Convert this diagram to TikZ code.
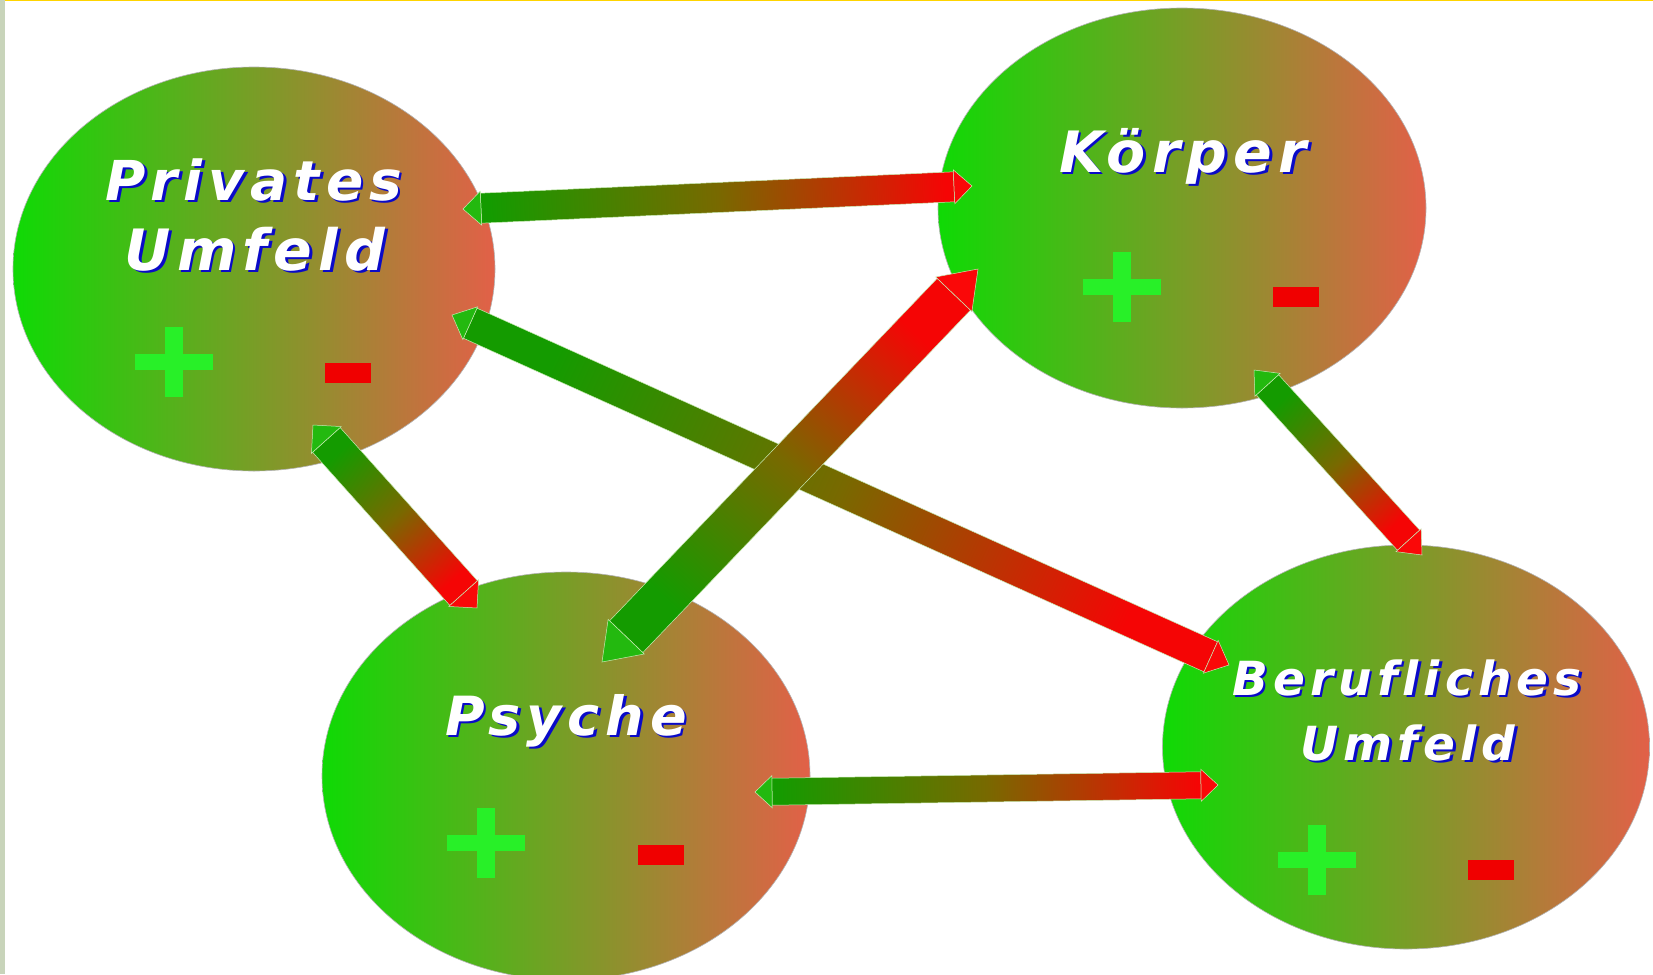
\documentclass[tikz,border=0pt]{standalone}
\usepackage{fontspec}
\newfontfamily\lblfont{DejaVu Sans}[LetterSpace=11,Ligatures=NoCommon]
\usetikzlibrary{calc,shapes.geometric}

\definecolor{ovgreen}{RGB}{15,218,5}
\definecolor{ovred}{RGB}{226,96,72}
\definecolor{agreen}{RGB}{20,155,0}
\definecolor{amid}{RGB}{120,105,0}
\definecolor{ared}{RGB}{245,5,5}
\definecolor{headgreen}{RGB}{35,185,15}
\definecolor{headred}{RGB}{250,8,8}
\definecolor{arrline}{RGB}{200,235,180}
\definecolor{shblue}{RGB}{10,10,200}
\definecolor{plusgreen}{RGB}{40,240,40}
\definecolor{minusred}{RGB}{240,0,0}
\definecolor{topline}{RGB}{255,212,0}
\definecolor{sidestrip}{RGB}{200,212,186}

% white text with a blue drop shadow
\newcommand\shtext[1]{%
  \rlap{\kern2.5pt\raisebox{-2.5pt}{\color{shblue}#1}}#1}

% double arrow: #1 green end, #2 red end, #3 half shaft, #4 head length, #5 half head
\newcommand\dblarrow[5]{%
  \coordinate (tmpS) at ($(#1)!#4!(#2)$);
  \coordinate (tmpE) at ($(#2)!#4!(#1)$);
  \pgfmathanglebetweenpoints{\pgfpointanchor{#1}{center}}{\pgfpointanchor{#2}{center}}%
  \pgfmathsetmacro\arrang{\pgfmathresult+90}%
  \path[top color=agreen, bottom color=ared, middle color=amid, shading angle=\arrang,
        draw=arrline, line width=0.5pt]
    ($(tmpS)!#3!90:(#2)$) -- ($(tmpE)!#3!-90:(#1)$) -- ($(tmpE)!#3!90:(#1)$) -- ($(tmpS)!#3!-90:(#2)$) -- cycle;
  \filldraw[fill=headgreen, draw=arrline, line width=0.5pt]
    (#1) -- ($(tmpS)!#5!90:(#2)$) -- ($(tmpS)!#5!-90:(#2)$) -- cycle;
  \filldraw[fill=headred, draw=arrline, line width=0.5pt]
    (#2) -- ($(tmpE)!#5!90:(#1)$) -- ($(tmpE)!#5!-90:(#1)$) -- cycle;
}

\begin{document}
\begin{tikzpicture}[
    x=1pt, y=-1pt,
    oval/.style={ellipse, inner sep=0, left color=ovgreen, right color=ovred,
                 draw=black!30, line width=0.6pt},
    lbl/.style={anchor=base, inner sep=0, text=white,
                font=\lblfont\bfseries\itshape\fontsize{#1}{#1}\selectfont},
    plussign/.pic={\fill[plusgreen] (-39,-8) rectangle (39,8);
                   \fill[plusgreen] (-9,-35) rectangle (9,35);},
    minussign/.pic={\fill[minusred] (-23,-10) rectangle (23,10);}
]

\useasboundingbox (0,0) rectangle (1653,974);
\fill[white] (0,0) rectangle (1653,974);
\fill[sidestrip] (0,0) rectangle (5,974);
\fill[topline] (5,0) rectangle (1653,1.5);

% -- the four areas --
\node[oval, minimum width=482pt, minimum height=404pt] (privat) at (254,269) {};
\node[oval, minimum width=488pt, minimum height=400pt] (koerper) at (1182,208) {};
\node[oval, minimum width=488pt, minimum height=408pt] (psyche) at (566,776) {};
\node[oval, minimum width=487pt, minimum height=404pt] (beruf) at (1406,747) {};

\node[lbl=55] (privL1) at (254,200) {\shtext{Privates}};
\node[lbl=57] (privL2) at (255,270) {\shtext{Umfeld}};
\node[lbl=57] (koerL) at (1183,172) {\shtext{Körper}};
\node[lbl=54] (psyL) at (566,735) {\shtext{Psyche}};
\node[lbl=47] (berL1) at (1407,695) {\shtext{Berufliches}};
\node[lbl=47] (berL2) at (1408,760) {\shtext{Umfeld}};

\pic at (174,362) {plussign};
\pic at (348,373) {minussign};
\pic at (1122,287) {plussign};
\pic at (1296,297) {minussign};
\pic at (486,843) {plussign};
\pic at (661,855) {minussign};
\pic at (1317,860) {plussign};
\pic at (1491,870) {minussign};

% -- arrow ends --
\coordinate (pbG) at (452,315);
\coordinate (pbR) at (1229,665);
\coordinate (pkG) at (463,209);
\coordinate (pkR) at (972,186);
\coordinate (ppG) at (313,425);
\coordinate (ppR) at (477,608);
\coordinate (kbG) at (1254,370);
\coordinate (kbR) at (1422,555);
\coordinate (sbG) at (755,792);
\coordinate (sbR) at (1218,785);
\coordinate (skG) at (602,662);
\coordinate (skR) at (978,269);

% -- double arrows --
\dblarrow{pbG}{pbR}{16.5pt}{20pt}{18pt}
\dblarrow{pkG}{pkR}{15pt}{18pt}{17pt}
\dblarrow{ppG}{ppR}{18.5pt}{20pt}{20pt}
\dblarrow{kbG}{kbR}{15pt}{20pt}{17pt}
\dblarrow{sbG}{sbR}{13.5pt}{17pt}{16pt}
\dblarrow{skG}{skR}{23pt}{35pt}{25pt}

\end{tikzpicture}
\end{document}
